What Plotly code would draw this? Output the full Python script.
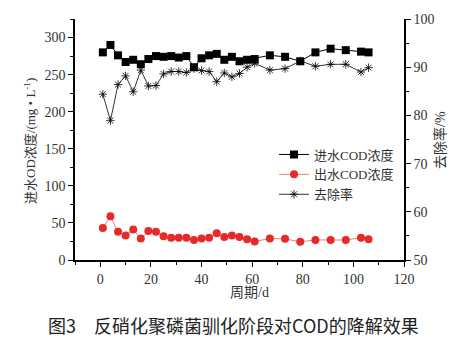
import plotly.graph_objects as go

days = [1, 4, 7, 10, 13, 16, 19, 22, 25, 28, 31, 34, 37, 40, 43, 46, 49, 52,
        55, 58, 61, 67, 73, 79, 85, 91, 97, 103, 106]
influent = [280, 290, 276, 267, 270, 264, 271, 275, 274, 275, 273, 275, 260, 272,
            276, 278, 270, 274, 268, 270, 271, 276, 274, 268, 280, 285, 283, 281, 280]
effluent = [43, 59, 38, 33, 41, 29, 39, 38, 32, 30, 30, 30, 27, 29,
            30, 36, 31, 33, 31, 28, 25, 29, 28.5, 24.5, 27, 27, 27, 30, 28]
removal = [84.4, 78.9, 86.4, 88.2, 84.9, 89.4, 86.1, 86.2, 88.6, 89.1, 89.1, 88.9,
           89.7, 89.3, 89.1, 87.0, 88.8, 88.0, 88.7, 90.0, 90.8, 89.4, 89.7, 91.3,
           90.2, 90.6, 90.6, 89.0, 89.9]

names = ["进水COD浓度", "出水COD浓度", "去除率"]
x_title = "周期/d"
y_title = "进水OD浓度/(mg • L<sup>-1</sup>)"
y2_title = "去除率/%"
caption = "图3　反硝化聚磷菌驯化阶段对COD的降解效果"

serif = "Liberation Serif, Noto Sans CJK SC"
cjk = "Noto Sans CJK SC"

fig = go.Figure()
fig.add_trace(go.Scatter(x=days, y=influent, name=names[0], mode="lines+markers",
                         line=dict(color="black", width=1),
                         marker=dict(symbol="square", size=8, color="black")))
fig.add_trace(go.Scatter(x=days, y=effluent, name=names[1], mode="lines+markers",
                         line=dict(color="#f08070", width=1),
                         marker=dict(symbol="circle", size=8, color="#e52a2a")))
fig.add_trace(go.Scatter(x=days, y=removal, name=names[2], mode="lines+markers",
                         yaxis="y2",
                         line=dict(color="black", width=0.8),
                         marker=dict(symbol="asterisk-open", size=7,
                                     line=dict(color="black", width=0.8))))

axis_common = dict(showline=True, linecolor="black", linewidth=1.5, ticks="outside",
                   ticklen=5, tickwidth=1.2, tickcolor="black", showgrid=False,
                   zeroline=False, tickfont=dict(family=serif, size=14, color="#333"),
                   minor=dict(ticks="outside", ticklen=3, tickwidth=1, tickcolor="black"))

fig.update_layout(
    width=476, height=344,
    margin=dict(l=75, r=72, t=17, b=84),
    plot_bgcolor="white", paper_bgcolor="white",
    showlegend=True,
    legend=dict(x=0.605, y=0.5, xanchor="left", yanchor="top",
                font=dict(family=serif, size=13, color="#333"),
                bgcolor="rgba(0,0,0,0)", tracegroupgap=0, itemwidth=30),
    xaxis=dict(range=[-10, 120], tickvals=[0, 20, 40, 60, 80, 100, 120],
               minor_dtick=10, minor_tick0=0, **axis_common),
    yaxis=dict(range=[0, 325], tickvals=[0, 50, 100, 150, 200, 250, 300],
               minor_dtick=25, minor_tick0=0, **axis_common),
    yaxis2=dict(range=[50, 100], overlaying="y", side="right", dtick=10,
                minor_dtick=5, minor_tick0=50, **axis_common),
    annotations=[
        dict(text=x_title, x=249, y=293, showarrow=False,
             font=dict(family=serif, size=14, color="#333")),
        dict(text=y_title, x=30, y=140, textangle=-90, showarrow=False,
             font=dict(family=serif, size=13, color="#333")),
        dict(text=y2_title, x=440, y=139, textangle=-90, showarrow=False,
             font=dict(family=serif, size=14, color="#333")),
        dict(text=caption, x=233, y=326, showarrow=False,
             font=dict(family=cjk, size=18, color="#222")),
    ],
)

# convert pixel positions for annotations into paper coords
L, R, T, B = 75, 404, 17, 260
for a in fig.layout.annotations:
    px, py = a.x, a.y
    a.xref = "paper"
    a.yref = "paper"
    a.x = (px - L) / (R - L)
    a.y = (B - py) / (B - T)
    a.xanchor = "center"
    a.yanchor = "middle"

fig.write_html("out.html")
